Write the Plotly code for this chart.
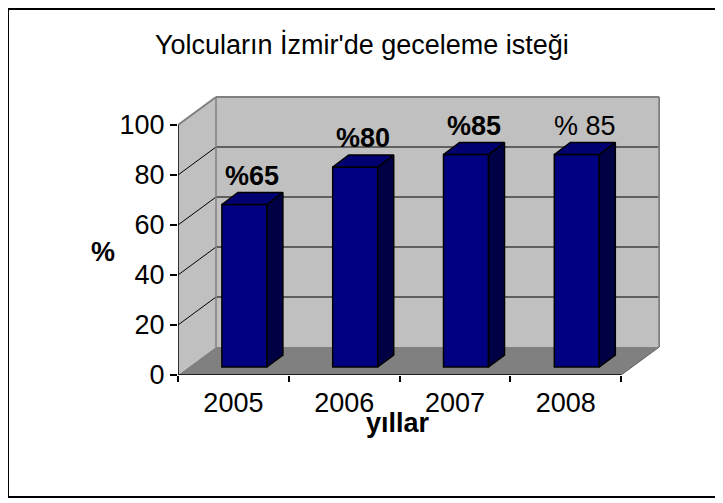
import plotly.graph_objects as go

# ---- data ----
years = ["2005", "2006", "2007", "2008"]
values = [65, 80, 85, 85]
labels = ["%65", "%80", "%85", "% 85"]
label_bold = [True, True, True, False]
y_ticks = [0, 20, 40, 60, 80, 100]

title = "Yolcuların İzmir'de geceleme isteği"
x_title = "yıllar"
y_title = "%"

# ---- geometry ----
W, H = 723, 503
OFF = 8                      # page body margin: screen = figure + OFF
# target screen positions of the plot area
S_LEFT, S_RIGHT, S_TOP, S_BOTTOM = 178, 660, 96, 375
ML = S_LEFT - OFF
MT = S_TOP - OFF
MB = H - (S_BOTTOM - OFF)
MR = W - (S_RIGHT - OFF)
XR = [-0.5, 3.85]
YR = [0, 111.6]
pw = W - ML - MR
ph = H - MT - MB
ux = pw / (XR[1] - XR[0])      # px per x unit
uy = ph / (YR[1] - YR[0])      # px per y unit

DX, DY = 38 / ux, 28 / uy      # wall depth
BX, BY = 11 / ux, 8 / uy       # bar front offset
BDX, BDY = 16 / ux, 12 / uy    # bar depth
BW = 45 / ux                   # bar width
n = len(years)
x0, x1 = -0.5, n - 0.5

FONT = "Liberation Sans, Arial, sans-serif"
FS = 27

def px_to_paper(sx, sy):
    fx, fy = sx - OFF, sy - OFF
    return (fx - ML) / pw, (H - MB - fy) / ph

fig = go.Figure()

shapes = []
def poly(pts, fill):
    path = "M " + " L ".join(f"{x},{y}" for x, y in pts) + " Z"
    shapes.append(dict(type="path", path=path, xref="x", yref="y", fillcolor=fill,
                       line=dict(color=fill, width=0), layer="below"))

def seg(xa, ya, xb, yb, color, lw=1):
    shapes.append(dict(type="line", x0=xa, y0=ya, x1=xb, y1=yb, xref="x", yref="y",
                       line=dict(color=color, width=lw), layer="below"))

top = y_ticks[-1]
# back wall
poly([(x0 + DX, DY), (x1 + DX, DY), (x1 + DX, top + DY), (x0 + DX, top + DY)], "#C0C0C0")
# left wall
poly([(x0, 0), (x0 + DX, DY), (x0 + DX, top + DY), (x0, top)], "#C0C0C0")
# floor
poly([(x0, 0), (x1, 0), (x1 + DX, DY), (x0 + DX, DY)], "#808080")

# gridlines
for v in y_ticks[1:-1]:
    seg(x0 + DX, v + DY, x1 + DX, v + DY, "#000000", 1)
    seg(x0, v, x0 + DX, v + DY, "#000000", 1)
# wall edges
seg(x0, top, x0 + DX, top + DY, "#808080", 2)
seg(x0 + DX, top + DY, x1 + DX, top + DY, "#808080", 2)
seg(x1 + DX, DY, x1 + DX, top + DY, "#808080", 2)
seg(x0 + DX, DY, x0 + DX, top + DY, "#808080", 1.5)
seg(x1, 0, x1 + DX, DY, "#606060", 1)
# axis lines
seg(x0, 0, x0, top, "#000000", 1.5)
seg(x0, 0, x1, 0, "#000000", 1.5)

# bars front
xs = [i + BX for i in range(n)]
fig.add_trace(go.Bar(x=xs, y=values, base=[BY] * n, width=BW,
                     marker=dict(color="#000080", line=dict(color="#000000", width=1.5)),
                     hoverinfo="skip", showlegend=False))

# bar side and top faces
for i, v in enumerate(values):
    xl = xs[i] - BW / 2
    xr = xs[i] + BW / 2
    yb = BY
    yt = v + BY
    fig.add_trace(go.Scatter(
        x=[xr, xr + BDX, xr + BDX, xr, xr], y=[yb, yb + BDY, yt + BDY, yt, yb],
        fill="toself", fillcolor="#000045", mode="lines",
        line=dict(color="#000000", width=1.5), hoverinfo="skip", showlegend=False))
    fig.add_trace(go.Scatter(
        x=[xl, xl + BDX, xr + BDX, xr, xl], y=[yt, yt + BDY, yt + BDY, yt, yt],
        fill="toself", fillcolor="#000070", mode="lines",
        line=dict(color="#000000", width=1.5), hoverinfo="skip", showlegend=False))

annotations = []
for i, v in enumerate(values):
    txt = f"<b>{labels[i]}</b>" if label_bold[i] else labels[i]
    annotations.append(dict(x=xs[i] + BDX / 2, y=v + BY + BDY, xref="x", yref="y",
                            text=txt, showarrow=False, yanchor="bottom", yshift=0,
                            font=dict(family=FONT, size=FS, color="#000000")))

# titles
tx, ty = px_to_paper(362, 45)
annotations.append(dict(x=tx, y=ty, xref="paper", yref="paper", text=title, showarrow=False,
                        xanchor="center", yanchor="middle",
                        font=dict(family=FONT, size=FS, color="#000000")))
tx, ty = px_to_paper(398, 423)
annotations.append(dict(x=tx, y=ty, xref="paper", yref="paper", text=f"<b>{x_title}</b>",
                        showarrow=False, xanchor="center", yanchor="middle",
                        font=dict(family=FONT, size=FS, color="#000000")))
tx, ty = px_to_paper(103, 252)
annotations.append(dict(x=tx, y=ty, xref="paper", yref="paper", text=f"<b>{y_title}</b>",
                        showarrow=False, xanchor="center", yanchor="middle",
                        font=dict(family=FONT, size=FS, color="#000000")))

# outer border (right edge lies beyond the visible window)
bx0, by0 = px_to_paper(8, 497)
bx1, by1 = px_to_paper(760, 9)
shapes.append(dict(type="rect", xref="paper", yref="paper", x0=bx0, y0=by0, x1=bx1, y1=by1,
                   line=dict(color="#000000", width=2), layer="above"))

fig.update_layout(
    width=W, height=H, autosize=False,
    margin=dict(l=ML, r=MR, t=MT, b=MB, pad=0),
    paper_bgcolor="#FFFFFF", plot_bgcolor="#FFFFFF",
    shapes=shapes, annotations=annotations, showlegend=False,
    xaxis=dict(range=XR, showgrid=False, zeroline=False, showline=False,
               tickvals=list(range(n)), ticktext=years, ticks="", ticklen=0,
               ticklabelstandoff=9,
               tickfont=dict(family=FONT, size=FS, color="#000000"),
               minor=dict(tickvals=[i - 0.5 for i in range(n + 1)], ticks="outside",
                          ticklen=6, tickwidth=1.5, tickcolor="#000000"),
               fixedrange=True),
    yaxis=dict(range=YR, showgrid=False, zeroline=False, showline=False,
               tickvals=y_ticks, ticks="outside", ticklen=7, tickwidth=1.5,
               tickcolor="#000000", ticklabelstandoff=0,
               tickfont=dict(family=FONT, size=FS, color="#000000"),
               fixedrange=True),
)

fig.write_html("out.html")
